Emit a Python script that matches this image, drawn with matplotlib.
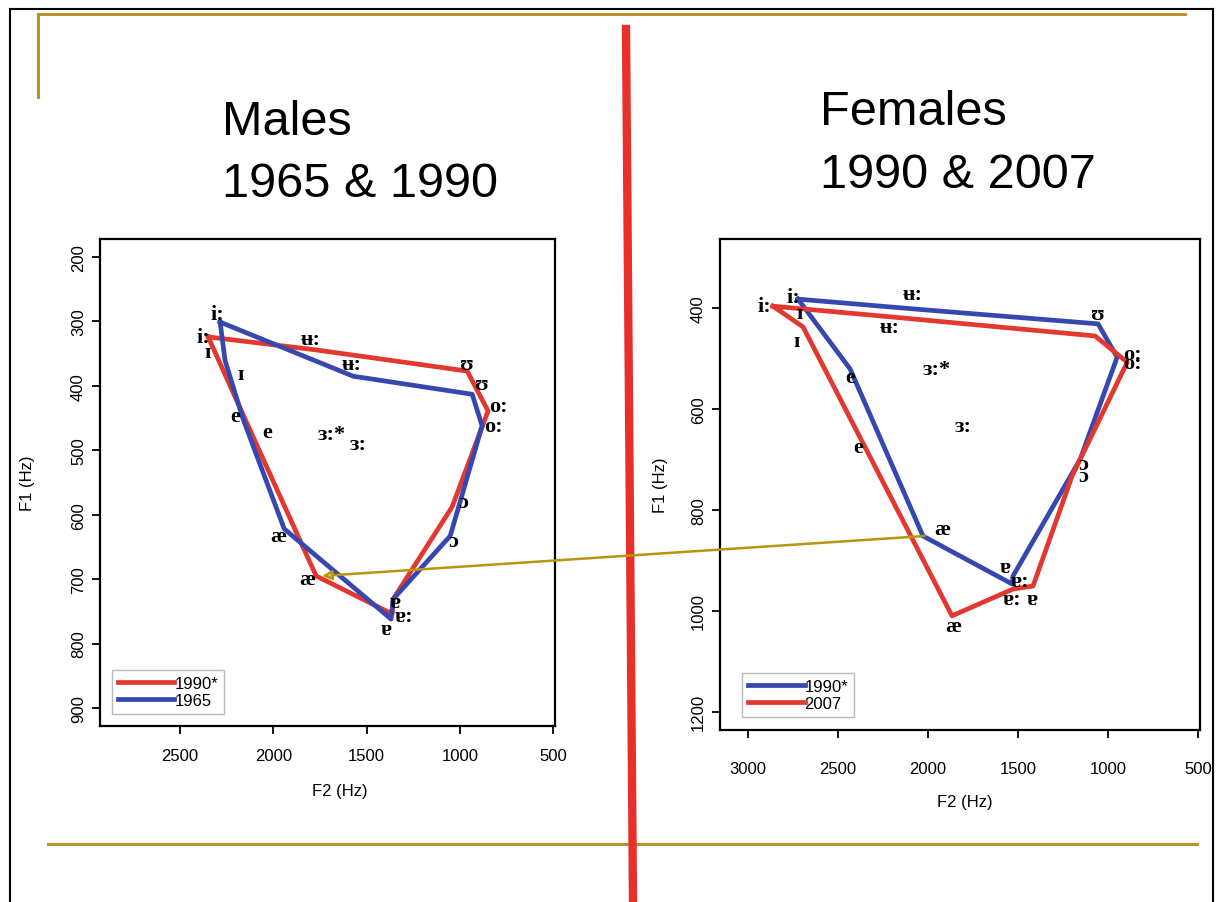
import numpy as np
import matplotlib
matplotlib.use('Agg')
import matplotlib.pyplot as plt
from matplotlib.lines import Line2D
from matplotlib.patches import ConnectionPatch

W, H = 1223, 903
RED = '#e2382f'
BLUE = '#3747b0'
GOLD = '#b8922c'

plt.rcParams['font.family'] = ['Liberation Sans', 'DejaVu Sans']
SERIF = ['Liberation Serif', 'DejaVu Serif']

# ---- males (F2, F1 in Hz) ----
m_1990_f2 = [2350, 1776, 961, 849, 1042, 1358, 1363, 1771, 2103, 2350]
m_1990_f1 = [324, 344, 377, 439, 588, 731, 754, 695, 483, 324]
m_1965_f2 = [2286, 1572, 934, 881, 1052, 1358, 1369, 1942, 2162, 2259, 2286]
m_1965_f1 = [301, 385, 413, 462, 633, 731, 762, 622, 452, 361, 301]

m_lab = ['i:', 'i:', 'ɪ', 'ɪ', 'ʉ:', 'ʉ:', 'ʊ', 'ʊ', 'o:', 'o:', 'e', 'e',
         'ɜ:*', 'ɜ:', 'æ', 'æ', 'ɐ', 'ɐ:', 'ɐ', 'ɔ', 'ɔ']
m_lab_f2 = [2302, 2377, 2355, 2178, 1803, 1578, 961, 881, 795, 822, 2205, 2034,
            1685, 1546, 1975, 1819, 1347, 1299, 1395, 983, 1036]
m_lab_f1 = [289, 324, 348, 382, 327, 366, 366, 397, 431, 462, 447, 472,
            475, 490, 633, 700, 736, 757, 778, 580, 641]

# ---- females ----
f_1990_f2 = [2722, 2678, 2433, 2028, 1533, 1528, 1155, 950, 1056, 2061, 2722]
f_1990_f1 = [383, 404, 521, 852, 947, 931, 700, 498, 432, 403, 383]
f_2007_f2 = [2861, 2694, 2344, 1867, 1528, 1417, 1200, 894, 1072, 2211, 2861]
f_2007_f1 = [397, 438, 680, 1010, 957, 951, 733, 508, 456, 418, 397]

f_lab = ['i:', 'i:', 'ɪ', 'ɪ', 'ʉ:', 'ʉ:', 'ʊ', 'o:', 'o:', 'e', 'e',
         'ɜ:*', 'ɜ:', 'æ', 'æ', 'ɐ', 'ɐ:', 'ɐ:', 'ɐ', 'ɔ', 'ɔ']
f_lab_f2 = [2906, 2750, 2711, 2728, 2083, 2211, 1056, 867, 867, 2433, 2389,
            1950, 1805, 1922, 1861, 1572, 1489, 1533, 1422, 1139, 1139]
f_lab_f1 = [397, 379, 411, 466, 373, 438, 412, 492, 509, 537, 676,
            521, 634, 838, 1030, 913, 941, 977, 977, 709, 733]

# arrow: from female 1990 æ region to male 1990 æ
arrow_from = (2020, 852)
arrow_to = (1739, 695)


def px_rect(x0, y0, x1, y1):
    return [x0 / W, 1 - y1 / H, (x1 - x0) / W, (y1 - y0) / H]


def fig_line(fig, x0, y0, x1, y1, **kw):
    fig.add_artist(Line2D([x0 / W, x1 / W], [1 - y0 / H, 1 - y1 / H],
                          transform=fig.transFigure, **kw))


def style_axes(ax, xlim, ylim, xticks, yticks, xpad):
    ax.set_xlim(*xlim)
    ax.set_ylim(*ylim)
    ax.set_xticks(xticks)
    ax.set_yticks(yticks)
    for s in ax.spines.values():
        s.set_linewidth(1.6)
    ax.tick_params(length=6, width=1.3, labelsize=12)
    ax.tick_params(axis='x', pad=xpad)
    ax.tick_params(axis='y', pad=4)
    for t in ax.get_yticklabels():
        t.set_rotation(90)
        t.set_va('center')


fig = plt.figure(figsize=(W / 100, H / 100), dpi=100)

ax1 = fig.add_axes(px_rect(100, 240, 555, 727))
ax1.plot(m_1990_f2, m_1990_f1, color=RED, lw=3.4, label='1990*', solid_joinstyle='round')
ax1.plot(m_1965_f2, m_1965_f1, color=BLUE, lw=3.4, label='1965', solid_joinstyle='round')
for s, x, y in zip(m_lab, m_lab_f2, m_lab_f1):
    ax1.text(x, y, s, family=SERIF, fontsize=16, fontweight='bold',
             ha='center', va='center')
style_axes(ax1, (2930, 490), (928, 172), [2500, 2000, 1500, 1000, 500],
           [200, 300, 400, 500, 600, 700, 800, 900], 10)
ax1.set_xlabel('F2 (Hz)', fontsize=12)
ax1.set_ylabel('F1 (Hz)', fontsize=12)
ax1.xaxis.set_label_coords(0.527, -0.117)
ax1.yaxis.set_label_coords(-0.143, 0.5)
ax1.legend(loc='lower left', bbox_to_anchor=(0.026, 0.025), borderaxespad=0,
           fontsize=12, handlelength=3.4, handletextpad=0.0, fancybox=False,
           edgecolor='#bbbbbb', framealpha=1, borderpad=0.35, labelspacing=0.1)

ax2 = fig.add_axes(px_rect(720, 240, 1200, 731))
ax2.plot(f_1990_f2, f_1990_f1, color=BLUE, lw=3.4, label='1990*', solid_joinstyle='round')
ax2.plot(f_2007_f2, f_2007_f1, color=RED, lw=3.4, label='2007', solid_joinstyle='round')
for s, x, y in zip(f_lab, f_lab_f2, f_lab_f1):
    ax2.text(x, y, s, family=SERIF, fontsize=16, fontweight='bold',
             ha='center', va='center')
style_axes(ax2, (3155, 490), (1236, 264), [3000, 2500, 2000, 1500, 1000, 500],
           [400, 600, 800, 1000, 1200], 16)
ax2.set_xlabel('F2 (Hz)', fontsize=12)
ax2.set_ylabel('F1 (Hz)', fontsize=12)
ax2.xaxis.set_label_coords(0.51, -0.13)
ax2.yaxis.set_label_coords(-0.108, 0.5)
ax2.legend(loc='lower left', bbox_to_anchor=(0.046, 0.027), borderaxespad=0,
           fontsize=12, handlelength=3.4, handletextpad=0.0, fancybox=False,
           edgecolor='#bbbbbb', framealpha=1, borderpad=0.35, labelspacing=0.1)

# titles
fig.text(222 / W, 1 - 135 / H, 'Males', fontsize=35, va='baseline')
fig.text(222 / W, 1 - 197 / H, '1965 & 1990', fontsize=35, va='baseline')
fig.text(820 / W, 1 - 125 / H, 'Females', fontsize=35, va='baseline')
fig.text(820 / W, 1 - 188 / H, '1990 & 2007', fontsize=35, va='baseline')

# slide decorations
fig_line(fig, 10, 10, 1213, 10, color='black', lw=1.5)
fig_line(fig, 10, 10, 10, 903, color='black', lw=1.5)
fig_line(fig, 1213, 10, 1213, 903, color='black', lw=1.5)
fig_line(fig, 38, 15, 1185, 15, color=GOLD, lw=2.2)
fig_line(fig, 38, 15, 38, 98, color=GOLD, lw=2.2)
fig_line(fig, 48, 845, 1197, 845, color=GOLD, lw=2.2)
fig_line(fig, 626, 30, 633, 903, color='#e8302a', lw=6)

con = ConnectionPatch(xyA=arrow_from, coordsA=ax2.transData,
                      xyB=arrow_to, coordsB=ax1.transData,
                      arrowstyle='-|>', mutation_scale=14, color='#b8960f',
                      lw=1.8, zorder=10)
con.set_facecolor('#e0c830')
fig.add_artist(con)

fig.savefig('out.png', dpi=100)
